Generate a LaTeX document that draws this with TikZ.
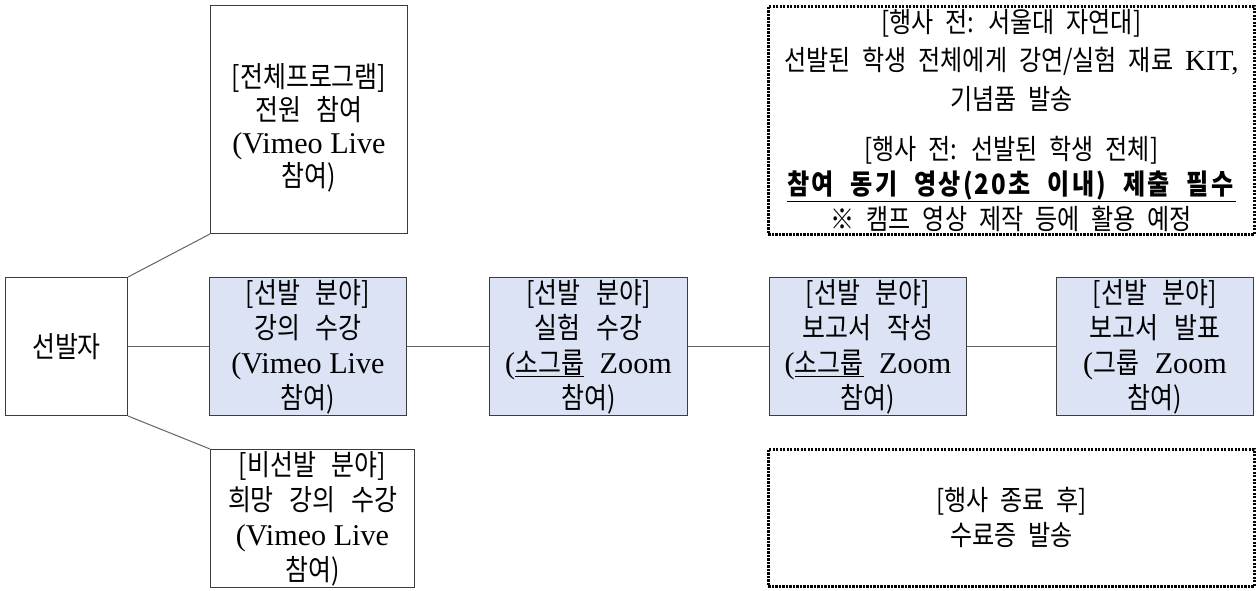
\documentclass[tikz,border=0pt]{standalone}
\usepackage{fontspec}
\setmainfont{Noto Sans CJK KR}[WordSpace=2.8, FakeStretch=0.86]
\newfontfamily\krs{Noto Sans CJK KR}[WordSpace=2.2, FakeStretch=0.86]
\newfontfamily\lat{Liberation Serif}[Scale=1.04]
\newcommand\lt[1]{{\lat #1}}
\definecolor{boxfill}{RGB}{220,227,245}
\definecolor{edge}{RGB}{60,60,60}
\tikzset{
  base/.style={draw=edge, line width=1pt, anchor=north west, align=center, inner sep=0pt,
    font=\fontsize{29}{35}\selectfont, text=black},
  plainbox/.style={base, fill=white},
  bluebox/.style={base, fill=boxfill},
  dotbox/.style={base, draw=black, line width=2.8pt, line cap=butt, dash pattern=on 2.2pt off 1.3pt,
    font=\fontsize{28}{35}\selectfont\krs},
  txt/.style={align=center, inner sep=0pt, font=\fontsize{29}{35}\selectfont, text=black},
  conn/.style={draw=edge!80, line width=1pt}
}
\begin{document}
\begin{tikzpicture}[x=1pt,y=-1pt]
\useasboundingbox (0,0) rectangle (1256,591);
\node[plainbox, minimum width=122pt, minimum height=138pt] (sel) at (5,277) {선발자};
\node[plainbox, minimum width=197pt, minimum height=228pt] (all) at (210,5) {};
\node[txt] (allt) at ([yshift=-8pt]all.center)
  {[전체프로그램]\\[-2pt]전원 참여\\[-2pt]\lt{(Vimeo Live}\\[-2pt]참여)};
\node[bluebox, minimum width=197pt, minimum height=138pt] (lec) at (209,277)
  {[선발 분야]\\강의 수강\\\lt{(Vimeo Live}\\참여)};
\node[bluebox, minimum width=198pt, minimum height=138pt] (exp) at (489,277)
  {[선발 분야]\\실험 수강\\\lt{(}\underline{소그룹} \lt{Zoom}\\참여)};
\node[bluebox, minimum width=197pt, minimum height=138pt] (rep) at (769,277)
  {[선발 분야]\\보고서 작성\\\lt{(}\underline{소그룹} \lt{Zoom}\\참여)};
\node[bluebox, minimum width=197pt, minimum height=138pt] (pres) at (1056,277)
  {[선발 분야]\\보고서 발표\\\lt{(}그룹 \lt{Zoom}\\참여)};
\node[plainbox, minimum width=204pt, minimum height=138pt] (non) at (210,449)
  {[비선발 분야]\\희망 강의 수강\\\lt{(Vimeo Live}\\참여)};
\node[dotbox, minimum width=486pt, minimum height=228pt] (pre) at (767,5)
  {[행사 전: 서울대 자연대]\\[3.5pt]선발된 학생 전체에게 강연/실험 재료 \lt{KIT,}\\[3.5pt]기념품 발송\\[15pt]
   [행사 전: 선발된 학생 전체]\\\underline{\textbf{\addfontfeatures{LetterSpace=8}참여 동기 영상(20초 이내) 제출 필수}}\\※ 캠프 영상 제작 등에 활용 예정};
\node[dotbox, minimum width=486pt, minimum height=137pt] (post) at (767,448)
  {[행사 종료 후]\\수료증 발송};
\draw[conn] (sel.north east) -- (all.south west);
\draw[conn] (sel.south east) -- (non.north west);
\draw[conn] (sel.east) -- (lec.west);
\draw[conn] (lec.east) -- (exp.west);
\draw[conn] (exp.east) -- (rep.west);
\draw[conn] (rep.east) -- (pres.west);
\end{tikzpicture}
\end{document}
